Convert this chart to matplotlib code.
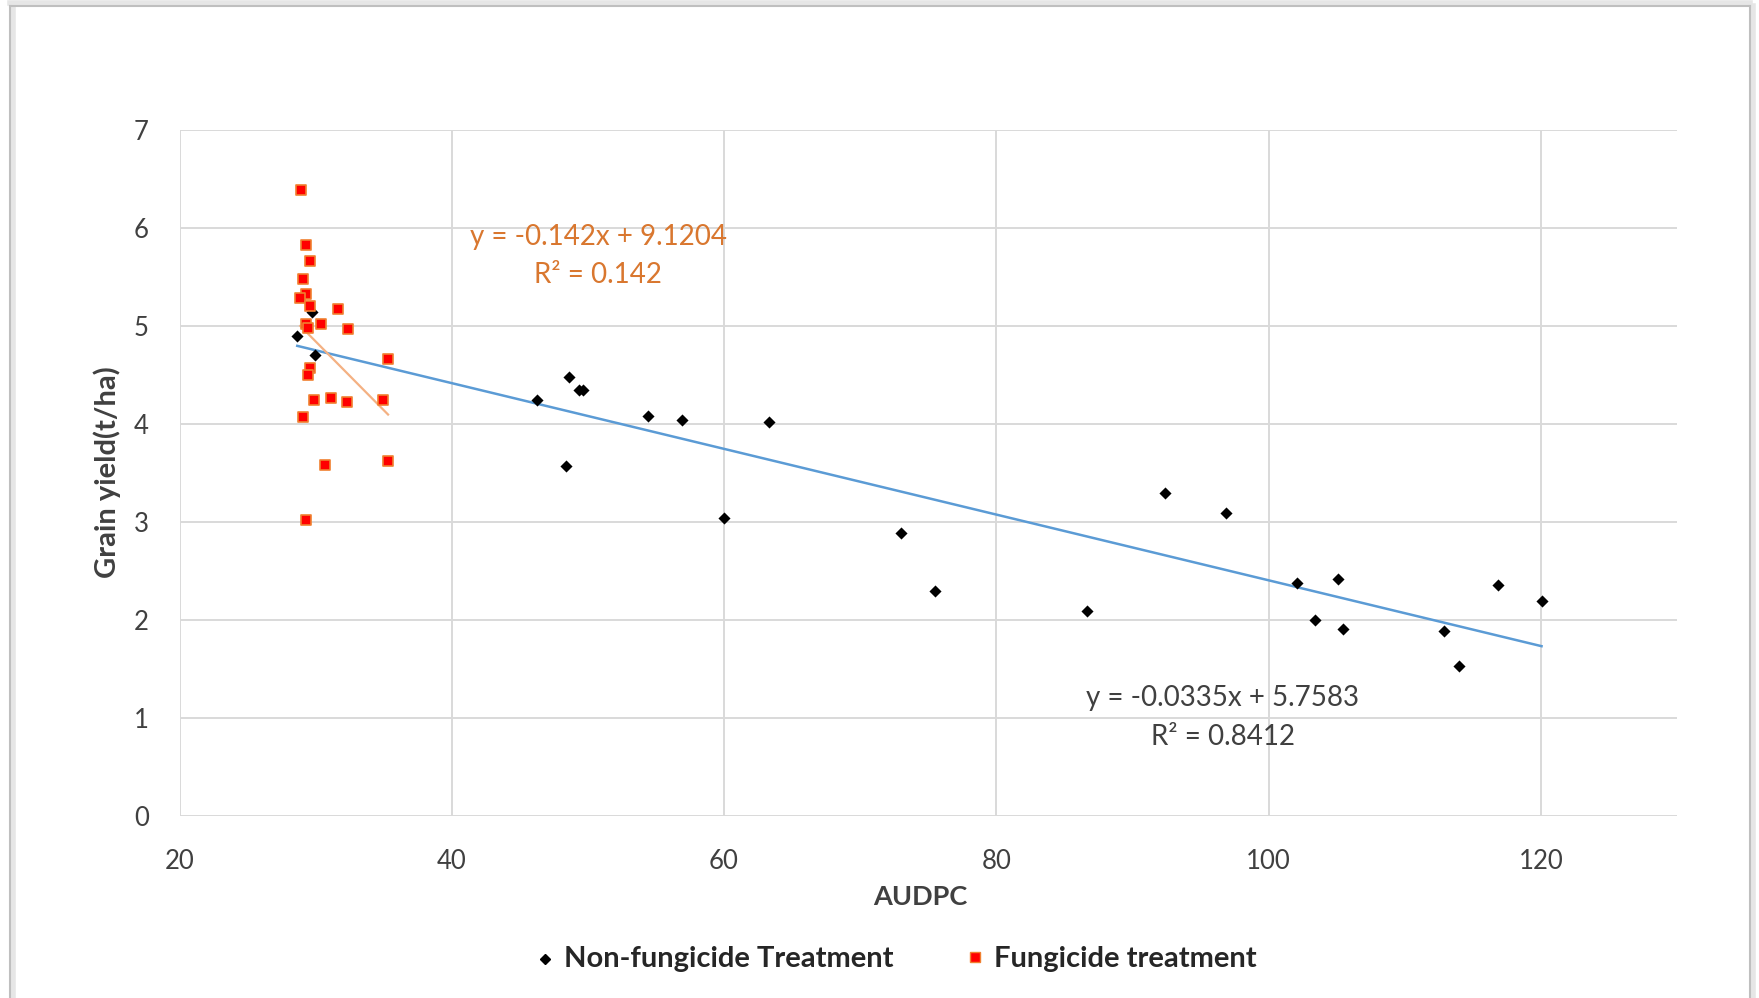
import numpy as np
import matplotlib
matplotlib.use("Agg")
import matplotlib.pyplot as plt
from matplotlib.lines import Line2D

plt.rcParams['font.family'] = ['Lato', 'DejaVu Sans']

# Non-fungicide treatment (AUDPC, grain yield)
nonfung_x = [28.65, 29.73, 29.92, 46.28, 48.36, 48.62, 49.33, 49.62, 54.38, 56.92,
             59.97, 63.27, 73.0, 75.52, 86.68, 92.41, 96.84, 102.08, 103.38, 105.13,
             105.43, 112.9, 114.02, 116.88, 120.05]
nonfung_y = [4.90, 5.14, 4.70, 4.24, 3.57, 4.48, 4.35, 4.35, 4.08, 4.04,
             3.04, 4.02, 2.89, 2.29, 2.09, 3.29, 3.09, 2.38, 2.00, 2.42,
             1.91, 1.89, 1.53, 2.35, 2.19]

# Fungicide treatment
fung_x = [28.92, 29.26, 29.58, 29.07, 29.29, 28.87, 29.58, 31.63, 29.26, 30.36,
          29.43, 32.41, 35.29, 29.58, 29.43, 29.90, 31.15, 32.27, 34.98, 29.07,
          30.68, 35.32, 29.26]
fung_y = [6.39, 5.83, 5.66, 5.48, 5.33, 5.29, 5.20, 5.17, 5.02, 5.02,
          4.98, 4.97, 4.66, 4.57, 4.50, 4.24, 4.26, 4.22, 4.24, 4.07,
          3.58, 3.62, 3.02]

eq_nonfung = ["y = -0.0335x + 5.7583", "R² = 0.8412"]
eq_fung = ["y = -0.142x + 9.1204", "R² = 0.142"]

x_ticks = [20, 40, 60, 80, 100, 120]
y_ticks = [0, 1, 2, 3, 4, 5, 6, 7]

W, H = 1759, 998
fig = plt.figure(figsize=(W / 100, H / 100), dpi=100)
fig.patch.set_facecolor('white')

def fx(px):
    return px / W

def fy(py):
    return 1 - py / H

# chart border with soft shadow
for off, col, lw in [(3, '#E6E6E6', 4), (0, '#BFBFBF', 1.5)]:
    fig.add_artist(Line2D([fx(10 + off)] * 2, [0, fy(6)], transform=fig.transFigure, color=col, lw=lw))
    fig.add_artist(Line2D([fx(1750 + off)] * 2, [0, fy(6)], transform=fig.transFigure, color=col, lw=lw))
    fig.add_artist(Line2D([fx(10), fx(1750)], [fy(6 - off)] * 2, transform=fig.transFigure, color=col, lw=lw))

ax = fig.add_axes([fx(179.5), fy(815.6), (1677 - 179.5) / W, (815.6 - 130.1) / H])
ax.set_xlim(20, 130)
ax.set_ylim(0, 7)
ax.set_xticks(x_ticks)
ax.set_yticks(y_ticks)
ax.grid(True, color='#D9D9D9', lw=1.4)
ax.set_axisbelow(True)
for s in ax.spines.values():
    s.set_visible(False)
ax.tick_params(length=0, labelsize=18.5, labelcolor='#404040')
ax.tick_params(axis='x', pad=24)
ax.tick_params(axis='y', pad=22)

# trendlines (least squares on each series)
xb = np.array(nonfung_x); yb = np.array(nonfung_y)
mb, cb = np.polyfit(xb, yb, 1)
xr = np.array(fung_x); yr = np.array(fung_y)
mr, cr = np.polyfit(xr, yr, 1)
xx = np.array([xb.min(), xb.max()])
ax.plot(xx, mb * xx + cb, color='#5B9BD5', lw=1.8, zorder=2)
xx2 = np.array([xr.min(), xr.max()])
ax.plot(xx2, mr * xx2 + cr, color='#F4B183', lw=1.6, zorder=4)

ax.scatter(nonfung_x, nonfung_y, marker='D', s=38, color='black', zorder=3, lw=0)
ax.scatter(fung_x, fung_y, marker='s', s=60, facecolor='#FF0000', edgecolor='#F08030', lw=1.2, zorder=5)

fig.text(fx(598), fy(237), eq_fung[0], ha='center', va='center', fontsize=20, color='#D9772F')
fig.text(fx(598), fy(275), eq_fung[1], ha='center', va='center', fontsize=20, color='#D9772F')

fig.text(fx(1223), fy(698), eq_nonfung[0], ha='center', va='center', fontsize=20, color='#404040')
fig.text(fx(1223), fy(737), eq_nonfung[1], ha='center', va='center', fontsize=20, color='#404040')

fig.text(fx(920), fy(897), 'AUDPC', ha='center', va='center', fontsize=19.5, fontweight='bold', color='#404040')
fig.text(fx(107), fy(472), 'Grain yield(t/ha)', ha='center', va='center', rotation=90, fontsize=21, fontweight='bold', color='#404040')

# legend
fig.add_artist(Line2D([fx(545)], [fy(959)], marker='D', markersize=5, color='black', lw=0, transform=fig.transFigure))
fig.text(fx(564), fy(959), 'Non-fungicide Treatment', ha='left', va='center', fontsize=21, fontweight='bold', color='#262626')
fig.add_artist(Line2D([fx(975)], [fy(957)], marker='s', markersize=7, markerfacecolor='#FF0000', markeredgecolor='#F08030', lw=0, transform=fig.transFigure))
fig.text(fx(994), fy(959), 'Fungicide treatment', ha='left', va='center', fontsize=21, fontweight='bold', color='#262626')

fig.savefig('out.png', dpi=100)
